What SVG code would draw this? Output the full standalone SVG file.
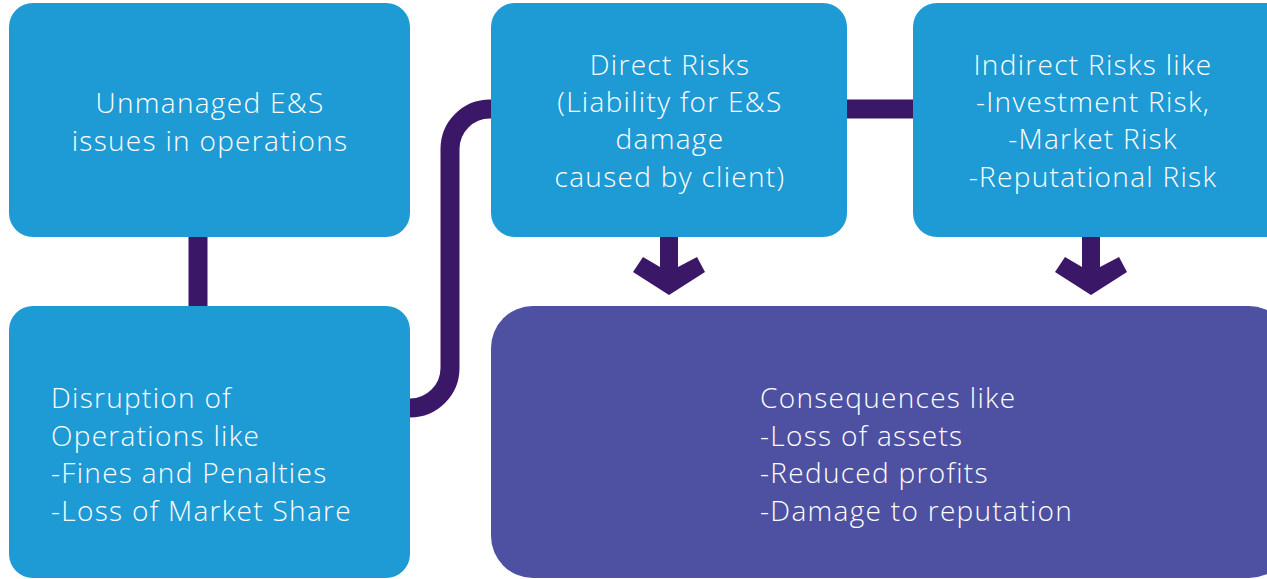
<svg xmlns="http://www.w3.org/2000/svg" width="1267" height="579" viewBox="0 0 1267 579">
<style>
.box{fill:#1E9AD4}
.cons{fill:#4E51A2}
.t{font-family:"Open Sans","Noto Sans",sans-serif;font-weight:300;font-size:28px;letter-spacing:1.3px;fill:#FFFFFF}
.c{text-anchor:middle}
.link{fill:none;stroke:#3B1767;stroke-width:19}
.arrow{fill:#3B1767}
</style>
<rect width="1267" height="579" fill="#FFFFFF"/>
<g id="connectors">
<line class="link" x1="198" y1="230" x2="198" y2="312"/>
<path class="link" d="M404 408 H410 A40 40 0 0 0 450 368 V149 A40 40 0 0 1 490 109 H497"/>
<line class="link" x1="840" y1="109" x2="920" y2="109"/>
<polygon class="arrow" points="660,230 678,230 678,267 697,257 705,272 669,295 633,272 643,257 660,267"/>
<polygon class="arrow" points="1082,230 1100,230 1100,267 1119,257 1127,272 1091,295 1055,272 1065,257 1082,267"/>
</g>
<g id="unmanaged">
<rect class="box" x="9" y="3" width="401" height="234" rx="24"/>
<text class="t c" x="210" y="113">Unmanaged E&amp;S</text>
<text class="t c" x="210" y="151">issues in operations</text>
</g>
<g id="disruption">
<rect class="box" x="9" y="306" width="401" height="272" rx="24"/>
<text class="t" x="51" y="408">Disruption of</text>
<text class="t" x="51" y="446">Operations like</text>
<text class="t" x="51" y="483">-Fines and Penalties</text>
<text class="t" x="51" y="521">-Loss of Market Share</text>
</g>
<g id="direct">
<rect class="box" x="491" y="3" width="356" height="234" rx="24"/>
<text class="t c" x="670" y="75">Direct Risks</text>
<text class="t c" x="670" y="112">(Liability for E&amp;S</text>
<text class="t c" x="670" y="149">damage</text>
<text class="t c" x="670" y="187">caused by client)</text>
</g>
<g id="indirect">
<rect class="box" x="913" y="3" width="380" height="234" rx="24"/>
<text class="t c" x="1093" y="75">Indirect Risks like</text>
<text class="t c" x="1093" y="112">-Investment Risk,</text>
<text class="t c" x="1093" y="149">-Market Risk</text>
<text class="t c" x="1093" y="187">-Reputational Risk</text>
</g>
<g id="consequences">
<rect class="cons" x="491" y="306" width="800" height="272" rx="42"/>
<text class="t" x="760" y="408">Consequences like</text>
<text class="t" x="760" y="446">-Loss of assets</text>
<text class="t" x="760" y="483">-Reduced profits</text>
<text class="t" x="760" y="521">-Damage to reputation</text>
</g>
</svg>
